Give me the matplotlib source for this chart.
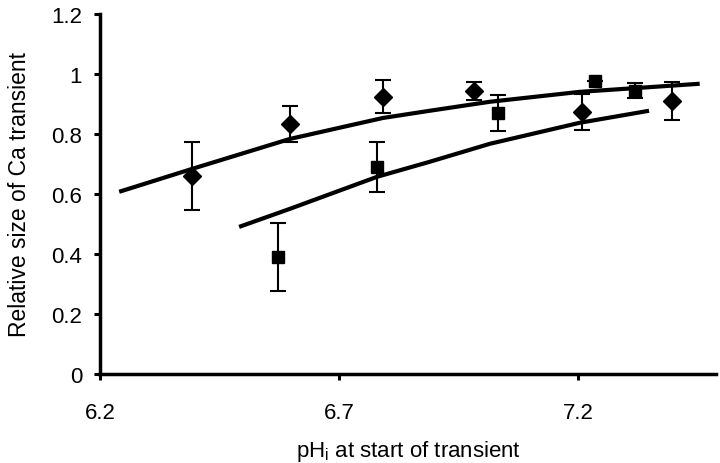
import numpy as np
import matplotlib
matplotlib.use("Agg")
import matplotlib.pyplot as plt
from matplotlib.ticker import FormatStrFormatter

plt.rcParams['font.family'] = ['Liberation Sans', 'DejaVu Sans']

# Diamond series (mean +/- error)
dia_x = [6.392, 6.597, 6.792, 6.982, 7.208, 7.397]
dia_y = [0.66, 0.833, 0.923, 0.943, 0.873, 0.91]
dia_err = [0.113, 0.06, 0.055, 0.03, 0.06, 0.063]

# Square series
sq_x = [6.572, 6.780, 7.033, 7.236, 7.319]
sq_y = [0.39, 0.69, 0.87, 0.977, 0.943]
sq_err = [0.113, 0.083, 0.06, 0.0, 0.025]

# Fitted curves
upper_x = [6.240, 6.392, 6.597, 6.792, 6.890, 7.016, 7.204, 7.455]
upper_y = [0.607, 0.683, 0.783, 0.853, 0.877, 0.907, 0.940, 0.967]
lower_x = [6.491, 6.597, 6.780, 6.890, 7.016, 7.204, 7.349]
lower_y = [0.490, 0.550, 0.657, 0.707, 0.767, 0.837, 0.877]

x_ticks = [6.2, 6.7, 7.2]
y_ticks = [0, 0.2, 0.4, 0.6, 0.8, 1.0, 1.2]

fig = plt.figure(figsize=(7.2, 4.64), dpi=100)
ax = fig.add_axes([0.139, 0.192, 0.856, 0.776])

ax.plot(upper_x, upper_y, color='black', lw=3, solid_capstyle='butt', zorder=2)
ax.plot(lower_x, lower_y, color='black', lw=3, solid_capstyle='butt', zorder=2)

ax.errorbar(dia_x, dia_y, yerr=dia_err, fmt='D', color='black', ms=9,
            ecolor='black', elinewidth=1.5, capsize=6, capthick=1.5, zorder=3)
ax.errorbar(sq_x, sq_y, yerr=sq_err, fmt='s', color='black', ms=8,
            ecolor='black', elinewidth=1.5, capsize=6, capthick=1.5, zorder=3)

ax.set_xlim(6.2, 7.49)
ax.set_ylim(0, 1.2)
ax.set_xticks(x_ticks)
ax.set_yticks(y_ticks)
ax.yaxis.set_major_formatter(FormatStrFormatter('%g'))
ax.xaxis.set_major_formatter(FormatStrFormatter('%g'))

for s in ['top', 'right']:
    ax.spines[s].set_visible(False)
for s in ['left', 'bottom']:
    ax.spines[s].set_linewidth(2.5)
ax.tick_params(axis='both', direction='out', length=4, width=2.2, labelsize=16)
ax.tick_params(axis='x', pad=16)
ax.tick_params(axis='y', pad=9)

ax.set_xlabel('pH$_\\mathregular{i}$ at start of transient', fontsize=16, labelpad=11)
ax.set_ylabel('Relative size of Ca transient', fontsize=16.5)
ax.yaxis.set_label_coords(-0.112, 0.5)

fig.savefig('out.png', dpi=100)
